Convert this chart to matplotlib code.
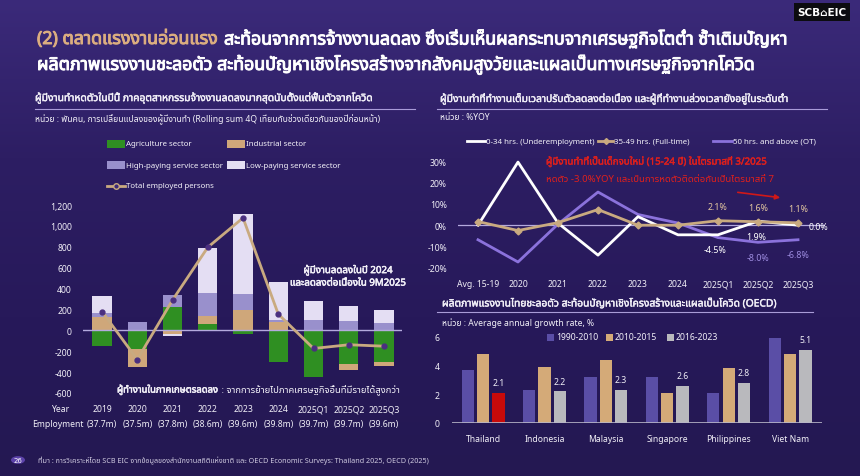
import numpy as np
import matplotlib
matplotlib.use('Agg')
import matplotlib.pyplot as plt
from matplotlib import font_manager as fm
from matplotlib.ft2font import FT2Font
from matplotlib.patches import Rectangle, Circle, FancyArrowPatch
from matplotlib.lines import Line2D
from matplotlib.colors import LinearSegmentedColormap
import matplotlib.transforms as mtransforms
import matplotlib.patheffects as pe

# ---------------- data ----------------
years = ['2019', '2020', '2021', '2022', '2023', '2024', '2025Q1', '2025Q2', '2025Q3']
employment = ['(37.7m)', '(37.5m)', '(37.8m)', '(38.6m)', '(39.6m)', '(39.8m)', '(39.7m)', '(39.7m)', '(39.6m)']
agriculture = [-150, -177, 222, 63, -35, -304, -446, -326, -304]
industrial = [125, -174, -38, 76, 196, 76, 5, -51, -41]
high_paying = [45, 76, 117, 216, 149, 25, 98, 92, 66]
low_paying = [155, 0, -12, 437, 766, 358, 174, 145, 124]
total_employed = [180, -280, 290, 795, 1077, 155, -174, -138, -152]
left_yticks = [-600, -400, -200, 0, 200, 400, 600, 800, 1000, 1200]

periods = ['Avg. 15-19', '2020', '2021', '2022', '2023', '2024', '2025Q1', '2025Q2', '2025Q3']
hrs_0_34 = [0.0, 29.5, 1.0, -14.0, 4.0, -4.5, -4.5, 1.9, 0.0]
hrs_35_49 = [1.7, -2.5, 1.2, 7.3, 0.0, 0.0, 2.1, 1.6, 1.1]
hrs_50_up = [-6.8, -17.2, 0.5, 15.5, 5.0, 1.0, -5.8, -8.0, -6.8]
right_yticks = [-20, -10, 0, 10, 20, 30]

countries = ['Thailand', 'Indonesia', 'Malaysia', 'Singapore', 'Philippines', 'Viet Nam']
g_1990_2010 = [3.7, 2.3, 3.2, 3.2, 2.1, 5.9]
g_2010_2015 = [4.8, 3.9, 4.4, 2.1, 3.8, 4.8]
g_2016_2023 = [2.1, 2.2, 2.3, 2.6, 2.8, 5.1]
prod_yticks = [0, 2, 4, 6]

# ---------------- fonts ----------------
def thai_fonts():
    pref = ['Noto Sans Thai', 'Noto Sans Thai Looped', 'Sarabun', 'Kanit', 'Prompt',
            'Loma', 'Garuda', 'Norasi', 'Tlwg Typo', 'Waree']
    found = []
    for f in fm.fontManager.ttflist:
        if f.name in found:
            continue
        try:
            if 0x0E01 in FT2Font(f.fname).get_charmap():
                found.append(f.name)
        except Exception:
            pass
    found.sort(key=lambda n: pref.index(n) if n in pref else 99)
    return found

FAM = ['Noto Sans'] + thai_fonts() + ['DejaVu Sans']
plt.rcParams['font.family'] = FAM

# ---------------- colours ----------------
C_AGR = '#2f8f22'
C_IND = '#cfa77a'
C_HIGH = '#9990cc'
C_LOW = '#e4def3'
C_LINE = '#c9aa80'
C_WHITE = '#ffffff'
C_PURP = '#8b72dc'
C_P1 = '#5a4ea6'
C_P2 = '#d4aa78'
C_P3 = '#b9b9bd'
C_RED = '#c80a0a'
C_RULE = '#a99cd8'
TXT = '#f2f0f8'
FS = 6.2
FS_LEG = 5.7

W, H = 860, 477
fig = plt.figure(figsize=(8.6, 4.77), dpi=100)

def X(px):
    return px / W

def Y(py):
    return 1 - py / H

# background gradient
bg = fig.add_axes([0, 0, 1, 1], zorder=-10)
cmap = LinearSegmentedColormap.from_list('bg', ['#3b2a7a', '#2d1e63', '#27195a', '#241852'])
bg.imshow(np.linspace(0, 1, 256).reshape(-1, 1), aspect='auto', cmap=cmap,
          extent=[0, 1, 0, 1], origin='upper')
bg.axis('off')

def ftext(px, py, s, stroke=0, **kw):
    kw.setdefault('va', 'center')
    kw.setdefault('color', TXT)
    t = fig.text(X(px), Y(py), s, **kw)
    if stroke:
        t.set_path_effects([pe.withStroke(linewidth=stroke, foreground=kw['color'])])
    return t

def hrule(x0, x1, py):
    fig.add_artist(Line2D([X(x0), X(x1)], [Y(py), Y(py)], transform=fig.transFigure,
                          color=C_RULE, lw=0.8))

# ---------------- title ----------------
t1 = ftext(37, 40, '(2) ตลาดแรงงานอ่อนแรง', color='#dcae80', fontsize=12.8, fontweight='bold', stroke=0.7)
fig.canvas.draw()
ext = t1.get_window_extent()
ftext(ext.x1 + 6, 40, 'สะท้อนจากการจ้างงานลดลง ซึ่งเริ่มเห็นผลกระทบจากเศรษฐกิจโตต่ำ ซ้ำเติมปัญหา',
      color='white', fontsize=12.8, fontweight='bold', stroke=0.7)
ftext(37, 66, 'ผลิตภาพแรงงานชะลอตัว สะท้อนปัญหาเชิงโครงสร้างจากสังคมสูงวัยและแผลเป็นทางเศรษฐกิจจากโควิด',
      color='white', fontsize=12.8, fontweight='bold', stroke=0.7)

# logo
ftext(822, 13, 'SCB\u2302EIC', color='white', fontsize=7.5, fontweight='bold', ha='center',
      family='DejaVu Sans',
      bbox=dict(boxstyle='square,pad=0.35', fc='#0c0c10', ec='none'))

# ---------------- left panel ----------------
ftext(35, 99, 'ผู้มีงานทำหดตัวในปีนี้ ภาคอุตสาหกรรมจ้างงานลดลงมากสุดนับตั้งแต่ฟื้นตัวจากโควิด',
      fontsize=7.4, fontweight='bold', stroke=0.3)
hrule(35, 415, 110)
ftext(35, 120, 'หน่วย : พันคน, การเปลี่ยนแปลงของผู้มีงานทำ (Rolling sum 4Q เทียบกับช่วงเดียวกันของปีก่อนหน้า)',
      fontsize=6.2)

# legend
leg_items = [(107, 145, C_AGR, 'Agriculture sector'), (227, 145, C_IND, 'Industrial sector'),
             (107, 166, C_HIGH, 'High-paying service sector'), (227, 166, C_LOW, 'Low-paying service sector')]
for lx, ly, col, lab in leg_items:
    fig.add_artist(Rectangle((X(lx), Y(ly + 4)), 18 / W, 8 / H, transform=fig.transFigure,
                             fc=col, ec='none'))
    ftext(lx + 19, ly, lab, fontsize=FS_LEG)
fig.add_artist(Line2D([X(107), X(125)], [Y(187), Y(187)], transform=fig.transFigure,
                      color=C_LINE, lw=2))
fig.add_artist(Line2D([X(116)], [Y(187)], transform=fig.transFigure, marker='o', ms=4,
                      mfc='#3b2a78', mec=C_LINE, mew=1))
ftext(126, 187, 'Total employed persons', fontsize=FS_LEG)

ax1 = fig.add_axes([X(83), Y(399.2), (402 - 83) / W, (399.2 - 200.8) / H])
ax1.set_facecolor('none')
for s in ax1.spines.values():
    s.set_visible(False)
xi = np.arange(len(years))
pos = np.zeros(len(years))
neg = np.zeros(len(years))
for vals, col in [(agriculture, C_AGR), (industrial, C_IND), (high_paying, C_HIGH), (low_paying, C_LOW)]:
    v = np.array(vals, dtype=float)
    base = np.where(v >= 0, pos, neg)
    ax1.bar(xi, v, width=0.55, bottom=base, color=col, edgecolor='none', zorder=2)
    pos = pos + np.where(v >= 0, v, 0)
    neg = neg + np.where(v < 0, v, 0)
ax1.axhline(0, color='#b4aade', lw=1, zorder=3)
ax1.plot(xi, total_employed, color=C_LINE, lw=2, zorder=4, marker='o', ms=3.5,
         mfc='#4a2f80', mec='#4a2f80')
ax1.set_ylim(-650, 1250)
ax1.set_xlim(-0.54, 8.51)
ax1.set_yticks(left_yticks)
ax1.set_yticklabels([f'{v:,}' for v in left_yticks])
ax1.set_xticks([])
ax1.tick_params(axis='y', length=0, labelcolor=TXT, labelsize=FS, pad=8)

tr1 = mtransforms.blended_transform_factory(ax1.transData, fig.transFigure)
for i in xi:
    ax1.text(i, Y(410), years[i], transform=tr1, ha='center', va='center', color=TXT, fontsize=FS)
    ax1.text(i, Y(425), employment[i], transform=tr1, ha='center', va='center', color=TXT, fontsize=FS)
ftext(60, 410, 'Year', fontsize=FS, ha='center')
ftext(84, 425, 'Employment', fontsize=FS, ha='right')

ftext(348, 271, 'ผู้มีงานลดลงในปี 2024', fontsize=7, fontweight='bold', ha='center', stroke=0.4)
ftext(348, 284, 'และลดลงต่อเนื่องใน 9M2025', fontsize=7, fontweight='bold', ha='center', stroke=0.4)
ta = ftext(117, 391, 'ผู้ทำงานในภาคเกษตรลดลง', fontsize=6.8, fontweight='bold', stroke=0.4)
fig.canvas.draw()
e2 = ta.get_window_extent()
ftext(e2.x1 + 1, 391, ' : จากการย้ายไปภาคเศรษฐกิจอื่นที่มีรายได้สูงกว่า', fontsize=6.8)

# ---------------- right top panel ----------------
ftext(440, 100, 'ผู้มีงานทำที่ทำงานเต็มเวลาปรับตัวลดลงต่อเนื่อง และผู้ที่ทำงานล่วงเวลายังอยู่ในระดับต่ำ',
      fontsize=7.4, fontweight='bold', stroke=0.3)
hrule(437, 827, 110)
ftext(440, 118, 'หน่วย : %YOY', fontsize=6.2)

# legend
fig.add_artist(Line2D([X(467), X(485)], [Y(142), Y(142)], transform=fig.transFigure, color=C_WHITE, lw=2))
ftext(486, 142, '0-34 hrs. (Underemployment)', fontsize=5.7)
fig.add_artist(Line2D([X(598), X(613)], [Y(142), Y(142)], transform=fig.transFigure, color=C_LINE, lw=2))
fig.add_artist(Line2D([X(605.5)], [Y(142)], transform=fig.transFigure, marker='D', ms=3, color=C_LINE))
ftext(614, 142, '35-49 hrs. (Full-time)', fontsize=5.7)
fig.add_artist(Line2D([X(713), X(732)], [Y(142), Y(142)], transform=fig.transFigure, color=C_PURP, lw=2))
ftext(733, 142, '50 hrs. and above (OT)', fontsize=5.7)

ax2 = fig.add_axes([X(458), Y(275.4), (825 - 458) / W, (275.4 - 155.6) / H])
ax2.set_facecolor('none')
for s in ax2.spines.values():
    s.set_visible(False)
xp = np.arange(len(periods))
ax2.axhline(0, color='#b4aade', lw=0.9, zorder=1)
ax2.plot(xp, hrs_50_up, color=C_PURP, lw=2, zorder=2)
ax2.plot(xp, hrs_0_34, color=C_WHITE, lw=2, zorder=3)
ax2.plot(xp, hrs_35_49, color=C_LINE, lw=2, marker='D', ms=3.5, zorder=4)
ax2.set_ylim(-23, 33)
ax2.set_xlim(-0.5, 8.675)
ax2.set_yticks(right_yticks)
ax2.set_yticklabels([f'{v}%' for v in right_yticks])
ax2.set_xticks([])
ax2.tick_params(axis='y', length=0, labelcolor=TXT, labelsize=FS, pad=8)
tr2 = mtransforms.blended_transform_factory(ax2.transData, fig.transFigure)
for i in xp:
    ax2.text(i, Y(285), periods[i], transform=tr2, ha='center', va='center', color=TXT, fontsize=FS)

def lab(ax, x, y, txt, dx, dy, col):
    ax.annotate(txt, (x, y), xytext=(dx, dy), textcoords='offset pixels', ha='center',
                va='center', color=col, fontsize=6.4, fontweight='bold', annotation_clip=False)

for i in [6, 7, 8]:
    lab(ax2, i, hrs_35_49[i], f'{hrs_35_49[i]:.1f}%', 0, 14, '#e3c7a0')
lab(ax2, 6, hrs_0_34[6], f'{hrs_0_34[6]:.1f}%', -3, -15, C_WHITE)
lab(ax2, 7, hrs_0_34[7], f'{hrs_0_34[7]:.1f}%', -2, -15, C_WHITE)
lab(ax2, 8, hrs_0_34[8], f'{hrs_0_34[8]:.1f}%', 20, -1, C_WHITE)
for i in [7, 8]:
    lab(ax2, i, hrs_50_up[i], f'{hrs_50_up[i]:.1f}%', 0, -15, '#9d8ce0')

# red note
ftext(546, 162, 'ผู้มีงานทำที่เป็นเด็กจบใหม่ (15-24 ปี) ในไตรมาสที่ 3/2025',
      color='#e0201c', fontsize=7.0, fontweight='bold', stroke=0.3)
ftext(546, 179, 'หดตัว -3.0%YOY และเป็นการหดตัวติดต่อกันเป็นไตรมาสที่ 7',
      color='#e0201c', fontsize=6.9, fontweight='bold')
fig.add_artist(FancyArrowPatch((X(735), Y(193)), (X(783), Y(199)), transform=fig.transFigure,
                               arrowstyle='-|>', mutation_scale=7, color='#d01818', lw=1.2))

# ---------------- right bottom panel ----------------
ftext(442, 305, 'ผลิตภาพแรงงานไทยชะลอตัว สะท้อนปัญหาเชิงโครงสร้างและแผลเป็นโควิด (OECD)',
      fontsize=7.4, fontweight='bold', stroke=0.3)
hrule(437, 813, 313)
ftext(442, 323, 'หน่วย : Average annual growth rate, %', fontsize=6.2)

for sx, col, lab_t in [(547, C_P1, '1990-2010'), (606, C_P2, '2010-2015'), (667, C_P3, '2016-2023')]:
    fig.add_artist(Rectangle((X(sx), Y(341.5)), 7 / W, 7 / H, transform=fig.transFigure,
                             fc=col, ec='none'))
    ftext(sx + 9, 338, lab_t, fontsize=FS)

ax3 = fig.add_axes([X(452), Y(424), (822 - 452) / W, (424 - 332) / H])
ax3.set_facecolor('none')
for s in ax3.spines.values():
    s.set_visible(False)
xc = np.arange(len(countries))
c3 = [C_RED if c == 'Thailand' else C_P3 for c in countries]
ax3.bar(xc - 0.25, g_1990_2010, width=0.2, color=C_P1, zorder=2)
ax3.bar(xc, g_2010_2015, width=0.2, color=C_P2, zorder=2)
ax3.bar(xc + 0.25, g_2016_2023, width=0.2, color=c3, zorder=2)
for i, v in enumerate(g_2016_2023):
    ax3.annotate(f'{v:.1f}', (xc[i] + 0.25, v), xytext=(0, 10), textcoords='offset pixels',
                 ha='center', va='center', color=TXT, fontsize=FS, annotation_clip=False)
ax3.axhline(0, color='#b8b6c8', lw=1.2, zorder=3)
ax3.set_ylim(0, 6.4)
ax3.set_xlim(-0.505, 5.52)
ax3.set_yticks(prod_yticks)
ax3.set_xticks([])
ax3.tick_params(axis='y', length=0, labelcolor=TXT, labelsize=FS, pad=9)
tr3 = mtransforms.blended_transform_factory(ax3.transData, fig.transFigure)
for i in xc:
    ax3.text(i, Y(439), countries[i], transform=tr3, ha='center', va='center', color=TXT, fontsize=FS)

# ---------------- footer ----------------
fig.add_artist(Circle((X(18), Y(461)), 7 / W, transform=fig.transFigure, fc='#5b41a8', ec='none'))
ftext(18, 461, '26', fontsize=5, ha='center', color='white', family='DejaVu Sans')
ftext(38, 461, 'ที่มา : การวิเคราะห์โดย SCB EIC จากข้อมูลของสำนักงานสถิติแห่งชาติ และ OECD Economic Surveys: Thailand 2025, OECD (2025)',
      fontsize=5.2, color='#cfcae0')

fig.savefig('out.png', dpi=100, facecolor=fig.get_facecolor())
